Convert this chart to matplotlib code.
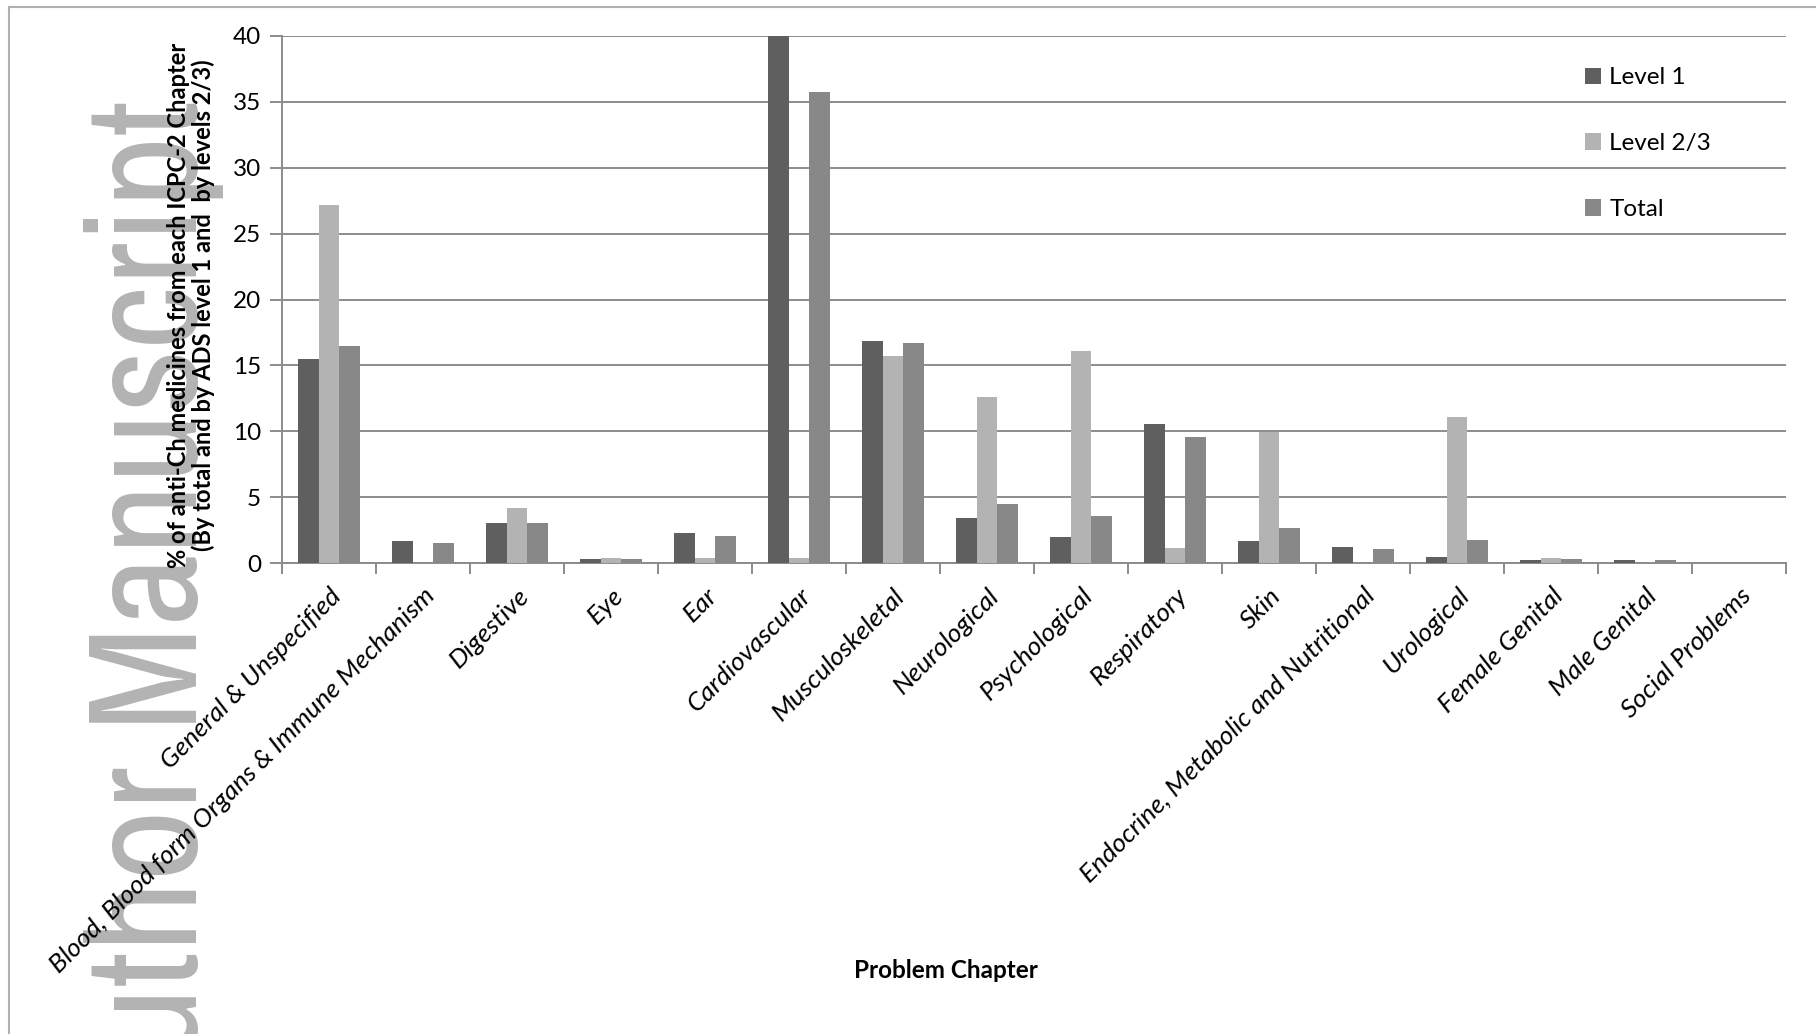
import matplotlib
matplotlib.use("Agg")
import matplotlib.pyplot as plt
import numpy as np
from matplotlib.lines import Line2D
from matplotlib import font_manager

# Share of anti-cholinergic medicines by ICPC-2 problem chapter
chapters = [
    "General & Unspecified",
    "Blood, Blood form Organs & Immune Mechanism",
    "Digestive",
    "Eye",
    "Ear",
    "Cardiovascular",
    "Musculoskeletal",
    "Neurological",
    "Psychological",
    "Respiratory",
    "Skin",
    "Endocrine, Metabolic and Nutritional",
    "Urological",
    "Female Genital",
    "Male Genital",
    "Social Problems",
]
level1 = [15.5, 1.7, 3.0, 0.33, 2.28, 40.0, 16.85, 3.4, 2.0, 10.55, 1.7, 1.18, 0.43, 0.25, 0.25, 0.0]
level23 = [27.2, 0.0, 4.2, 0.38, 0.38, 0.38, 15.7, 12.63, 16.07, 1.14, 9.97, 0.0, 11.1, 0.35, 0.0, 0.0]
total = [16.5, 1.52, 3.0, 0.3, 2.06, 35.74, 16.7, 4.5, 3.6, 9.57, 2.68, 1.05, 1.75, 0.28, 0.2, 0.0]

series_names = ["Level 1", "Level 2/3", "Total"]
series_colors = ["#5f5f5f", "#b3b3b3", "#888888"]

plt.rcParams["font.family"] = ["Lato", "DejaVu Sans"]

# upright narrow face for the watermark if one is installed
narrow = None
for f in font_manager.fontManager.ttflist:
    if (("Narrow" in f.name or "Condensed" in f.name) and f.style == "normal"
            and f.weight in (300, 400, "normal", "light", "regular")):
        narrow = f.fname
        break

W, H = 1816, 1034
fig = plt.figure(figsize=(W / 100, H / 100), dpi=100)
ax = fig.add_axes([282 / W, 1 - 563 / H, (1786 - 282) / W, (563 - 36) / H])

x = np.arange(len(chapters))
bw = 0.22
for i, (vals, name, c) in enumerate(zip([level1, level23, total], series_names, series_colors)):
    ax.bar(x + (i - 1) * bw, vals, width=bw, color=c, label=name, zorder=3)

grid_c = "#8c8c8c"
ax.set_xlim(-0.5, len(chapters) - 0.5)
ax.set_ylim(0, 40)
ax.set_yticks(np.arange(0, 41, 5))
ax.yaxis.grid(True, color=grid_c, linewidth=1.4, zorder=0)
ax.set_axisbelow(True)
for s in ["top", "right"]:
    ax.spines[s].set_visible(False)
for s in ["left", "bottom"]:
    ax.spines[s].set_color(grid_c)
    ax.spines[s].set_linewidth(1.4)

ax.tick_params(axis="y", length=9, width=1.4, color=grid_c, labelsize=17.5, pad=6)
ax.set_xticks(x)
ax.set_xticklabels(chapters, rotation=45, ha="right", rotation_mode="anchor",
                   fontsize=19, fontstyle="italic")
ax.tick_params(axis="x", which="major", length=0, pad=15)
ax.set_xticks(np.arange(-0.5, len(chapters), 1), minor=True)
ax.tick_params(axis="x", which="minor", length=8, width=1.4, color=grid_c)

fig.text(191 / W, 1 - 305 / H,
         "% of anti-Ch medicines from each ICPC-2 Chapter\n(By total and by ADS level 1 and  by levels 2/3)",
         rotation=90, ha="center", va="center", fontsize=17, fontweight="bold", linespacing=1.1)
fig.text(946 / W, 1 - 970 / H, "Problem Chapter", ha="center", va="center",
         fontsize=17.5, fontweight="bold")

ax.legend(loc="upper left", bbox_to_anchor=(1573 / W, 1 - 55 / H), bbox_transform=fig.transFigure,
          frameon=False, fontsize=17.5, handlelength=0.65, handleheight=0.65,
          handletextpad=0.35, labelspacing=1.85, borderpad=0)

# watermark running up the left side, kept underneath the axes texts
wm_kw = dict(rotation=90, rotation_mode="anchor", ha="right", va="baseline",
             color="#b3b3b3", zorder=-1)
if narrow is not None:
    wm_kw["fontproperties"] = font_manager.FontProperties(fname=narrow, size=112)
else:
    wm_kw["fontsize"] = 81
fig.text(197 / W, 1 - 100 / H, "Author Manuscript", **wm_kw)

# outer chart border (left and top edges)
fig.add_artist(Line2D([9 / W, 9 / W], [0, 1 - 7 / H], transform=fig.transFigure,
                      color="#b0b0b0", linewidth=1.5))
fig.add_artist(Line2D([9 / W, 1], [1 - 7 / H, 1 - 7 / H], transform=fig.transFigure,
                      color="#b0b0b0", linewidth=1.5))

fig.savefig("out.png", dpi=100, facecolor="white")
